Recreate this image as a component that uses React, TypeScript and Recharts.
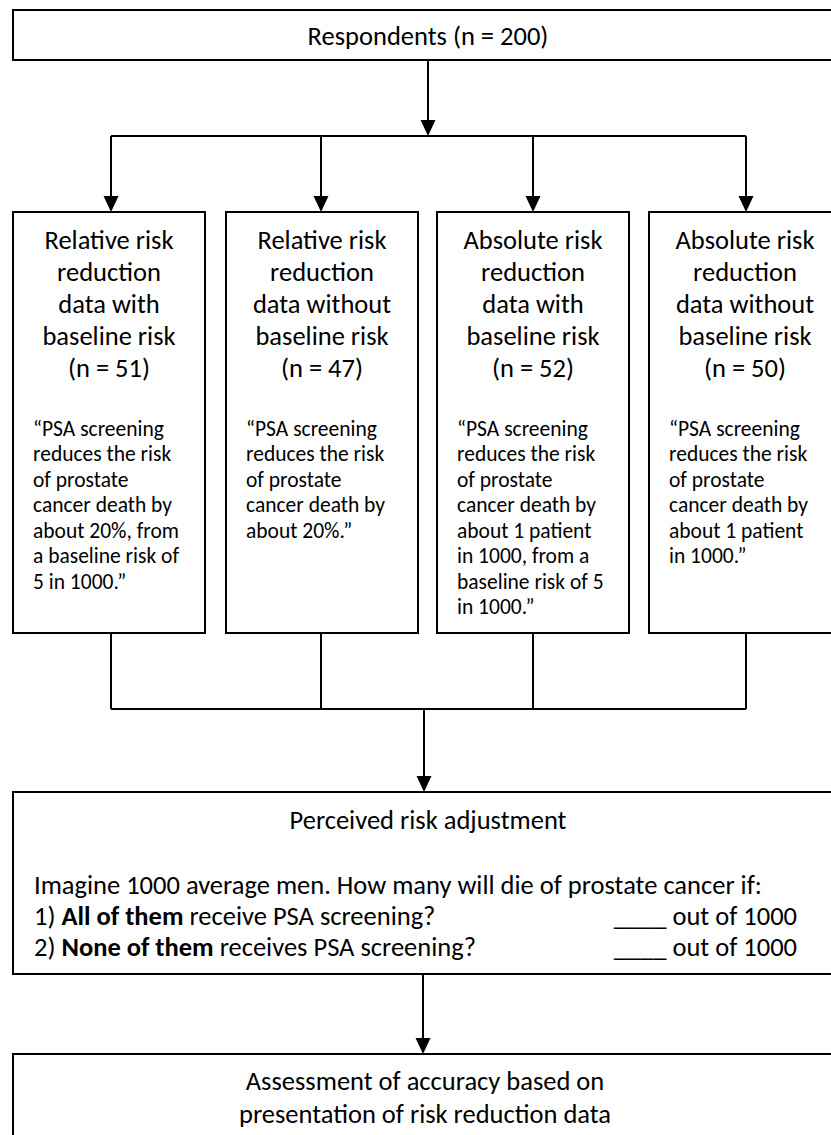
import React from 'react';
import {
    ComposedChart,
    XAxis,
    YAxis,
    Scatter,
    ReferenceArea,
    ReferenceLine
} from 'recharts';

// text content of the flow diagram
const topLabel = 'Respondents (n = 200)';

const groupTitles = [
    ['Relative risk', 'reduction', 'data with', 'baseline risk', '(n = 51)'],
    ['Relative risk', 'reduction', 'data without', 'baseline risk', '(n = 47)'],
    ['Absolute risk', 'reduction', 'data with', 'baseline risk', '(n = 52)'],
    ['Absolute risk', 'reduction', 'data without', 'baseline risk', '(n = 50)']
];

const groupQuotes = [
    ['\u201CPSA screening', 'reduces the risk', 'of prostate', 'cancer death by', 'about 20%, from', 'a baseline risk of', '5 in 1000.\u201D'],
    ['\u201CPSA screening', 'reduces the risk', 'of prostate', 'cancer death by', 'about 20%.\u201D'],
    ['\u201CPSA screening', 'reduces the risk', 'of prostate', 'cancer death by', 'about 1 patient', 'in 1000, from a', 'baseline risk of 5', 'in 1000.\u201D'],
    ['\u201CPSA screening', 'reduces the risk', 'of prostate', 'cancer death by', 'about 1 patient', 'in 1000.\u201D']
];

const adjustTitle = 'Perceived risk adjustment';
const adjustQuestion = 'Imagine 1000 average men. How many will die of prostate cancer if:';
const adjustItems = [
    { lead: '1) ', bold: 'All of them', rest: ' receive PSA screening?' },
    { lead: '2) ', bold: 'None of them', rest: ' receives PSA screening?' }
];
const answerText = '____ out of 1000';
const outcomeLines = ['Assessment of accuracy based on', 'presentation of risk reduction data'];

// layout (pixel-like units of the diagram canvas)
const W = 831;
const H = 1135;
const FONT = 'Carlito, Calibri, Lato, sans-serif';
const BIG = 26.5;
const SMALL = 21.5;
const groupLeft = [13, 226, 437, 649];
const groupWidth = 192;
const dropX = [111, 321, 533, 746];

type Seg = { t: string; b?: boolean };
type TextRow = { x: number; y: number; parts: Seg[]; size: number; anchor: 'start' | 'middle' | 'end' };

const textRows: TextRow[] = [];
textRows.push({ x: 428, y: 36, parts: [{ t: topLabel }], size: BIG, anchor: 'middle' });
groupTitles.forEach((lines, g) => {
    lines.forEach((t, i) => {
        textRows.push({ x: groupLeft[g] + groupWidth / 2, y: 240 + i * 32, parts: [{ t }], size: BIG, anchor: 'middle' });
    });
});
groupQuotes.forEach((lines, g) => {
    lines.forEach((t, i) => {
        textRows.push({ x: groupLeft[g] + 20, y: 428 + i * 25.5, parts: [{ t }], size: SMALL, anchor: 'start' });
    });
});
textRows.push({ x: 428, y: 820, parts: [{ t: adjustTitle }], size: BIG, anchor: 'middle' });
textRows.push({ x: 34, y: 885, parts: [{ t: adjustQuestion }], size: BIG, anchor: 'start' });
adjustItems.forEach((it, i) => {
    textRows.push({ x: 34, y: 916 + i * 30.5, parts: [{ t: it.lead }, { t: it.bold, b: true }, { t: it.rest }], size: BIG, anchor: 'start' });
    textRows.push({ x: 797, y: 916 + i * 30.5, parts: [{ t: answerText }], size: BIG, anchor: 'end' });
});
outcomeLines.forEach((t, i) => {
    textRows.push({ x: 425, y: 1081 + i * 33, parts: [{ t }], size: BIG, anchor: 'middle' });
});

const boxes = [
    { x1: 13, x2: 845, y1: 10, y2: 60 },
    ...groupLeft.map((l) => ({ x1: l, x2: l + groupWidth, y1: 212, y2: 633 })),
    { x1: 13, x2: 845, y1: 792, y2: 974 },
    { x1: 13, x2: 845, y1: 1054, y2: 1150 }
];

const segments = [
    [{ x: 428, y: 60 }, { x: 428, y: 130 }],
    [{ x: dropX[0], y: 136 }, { x: dropX[3], y: 136 }],
    ...dropX.map((x) => [{ x, y: 136 }, { x, y: 206 }]),
    ...dropX.map((x) => [{ x, y: 633 }, { x, y: 709 }]),
    [{ x: dropX[0], y: 709 }, { x: dropX[3], y: 709 }],
    [{ x: 424, y: 709 }, { x: 424, y: 786 }],
    [{ x: 423, y: 974 }, { x: 423, y: 1048 }]
];

const arrowTips = [
    { x: 428, y: 136 },
    ...dropX.map((x) => ({ x, y: 212 })),
    { x: 424, y: 792 },
    { x: 423, y: 1054 }
];

const ArrowHead = (props: any) => {
    const { cx, cy } = props;
    return <path d={`M${cx},${cy} L${cx - 7.5},${cy - 16} L${cx + 7.5},${cy - 16} Z`} fill="#000" />;
};

const TextShape = (props: any) => {
    const { cx, cy, payload } = props;
    return (
        <text
            x={cx}
            y={cy}
            dy="0.35em"
            textAnchor={payload.anchor}
            fontFamily={FONT}
            fontSize={payload.size}
            fill="#000"
        >
            {payload.parts.map((p: Seg, i: number) => (
                <tspan key={i} fontWeight={p.b ? 'bold' : 'normal'} style={{ whiteSpace: 'pre' }}>{p.t}</tspan>
            ))}
        </text>
    );
};

const App: React.FC = () => {
    return (
        <div style={{ position: 'absolute', left: 0, top: 0, background: '#fff' }}>
            <ComposedChart width={W} height={H} margin={{ top: 0, right: 0, bottom: 0, left: 0 }}>
                <XAxis type="number" dataKey="x" domain={[0, W]} hide allowDataOverflow />
                <YAxis type="number" dataKey="y" domain={[0, H]} reversed hide allowDataOverflow width={0} />
                {boxes.map((b, i) => (
                    <ReferenceArea
                        key={`box-${i}`}
                        x1={b.x1}
                        x2={b.x2}
                        y1={b.y1}
                        y2={b.y2}
                        fill="#fff"
                        fillOpacity={1}
                        stroke="#000"
                        strokeWidth={2}
                        ifOverflow="visible"
                    />
                ))}
                {segments.map((s, i) => (
                    <ReferenceLine
                        key={`seg-${i}`}
                        segment={s}
                        stroke="#000"
                        strokeWidth={2}
                        ifOverflow="visible"
                    />
                ))}
                <Scatter data={arrowTips} shape={ArrowHead} isAnimationActive={false} />
                <Scatter data={textRows} shape={TextShape} isAnimationActive={false} />
            </ComposedChart>
        </div>
    );
};

export default App;
